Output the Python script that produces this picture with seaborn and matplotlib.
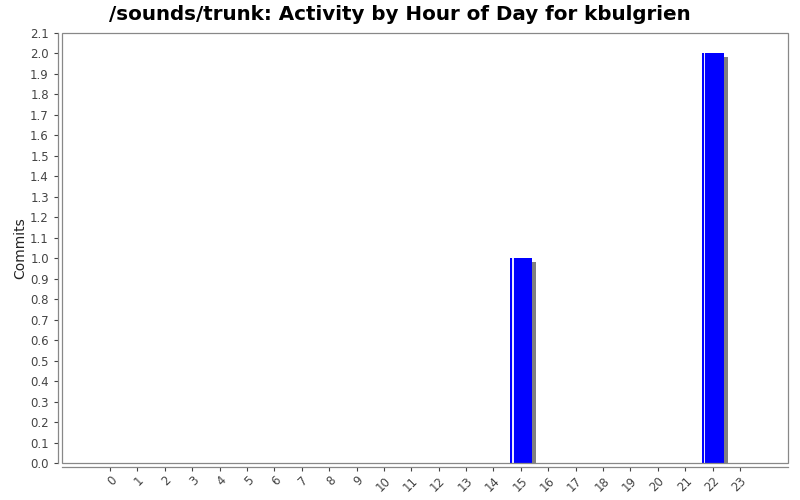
import matplotlib
matplotlib.use("Agg")
import matplotlib.pyplot as plt
import matplotlib.transforms as mtransforms
from matplotlib.patches import Rectangle
import seaborn as sns
import pandas as pd

hours = list(range(24))
commits = [0, 0, 0, 0, 0, 0, 0, 0, 0, 0, 0, 0, 0, 0, 0, 1, 0, 0, 0, 0, 0, 0, 2, 0]
y_ticks = [round(i * 0.1, 1) for i in range(22)]
title = "/sounds/trunk: Activity by Hour of Day for kbulgrien"

sns.set_style("white")
plt.rcParams['font.family'] = ['DejaVu Sans']

labels = [str(h) for h in hours]
df = pd.DataFrame({"hour": labels, "commits": commits})

fig = plt.figure(figsize=(8, 5), dpi=100)
ax = fig.add_axes([62 / 800, 37 / 500, 726 / 800, 430 / 500])

sns.barplot(data=df, x="hour", y="commits", order=labels,
            color="#0000ff", saturation=1, width=0.8, ax=ax, zorder=3)

bars = [p for p in ax.patches]
for p in bars:
    p.set_edgecolor("none")
    if p.get_height() > 0:
        sh = Rectangle((p.get_x(), p.get_y()), p.get_width(), p.get_height(),
                       facecolor="#808080", edgecolor="none", zorder=2,
                       transform=mtransforms.offset_copy(ax.transData, fig=fig, x=4, y=-4, units='dots'))
        ax.add_patch(sh)
        hx = p.get_x() + p.get_width() * 0.1
        ax.add_patch(Rectangle((hx, 0), p.get_width() * 0.07, p.get_height(),
                               facecolor="#e8e8ff", edgecolor="none", zorder=4))

ax.set_xlim(-1.75, 23 + 1.75)
ax.set_ylim(0, 2.1)
ax.set_yticks(y_ticks)
ax.set_yticklabels([f"{v:.1f}" for v in y_ticks])
ax.set_xticks(range(len(labels)))
ax.set_xticklabels(labels)
ax.set_xlabel("")
ax.set_ylabel("Commits", fontsize=10, color="#222222", labelpad=2)

ax.tick_params(axis='both', labelsize=8.5, colors="#444444", length=3, width=0.8,
               direction='out', bottom=True, left=True)
ax.tick_params(axis='x', labelrotation=45, pad=2)

for s in ['top', 'right']:
    ax.spines[s].set_visible(False)
for s in ['left', 'bottom']:
    ax.spines[s].set_position(('outward', 3))
    ax.spines[s].set_color("#888888")
    ax.spines[s].set_linewidth(0.9)

ax.add_patch(Rectangle((0, 0), 1, 1, transform=ax.transAxes, fill=False,
                       edgecolor="#888888", linewidth=0.9, zorder=5, clip_on=False))

fig.text(0.5, 0.972, title, ha='center', va='center', fontsize=14.3,
         fontweight='bold', color="#000000")

fig.canvas.draw()
for lab in ax.get_xticklabels():
    lab.set_rotation(45)
    lab.set_ha('right')
    lab.set_rotation_mode('anchor')

fig.savefig("out.png", dpi=100, facecolor="white")
